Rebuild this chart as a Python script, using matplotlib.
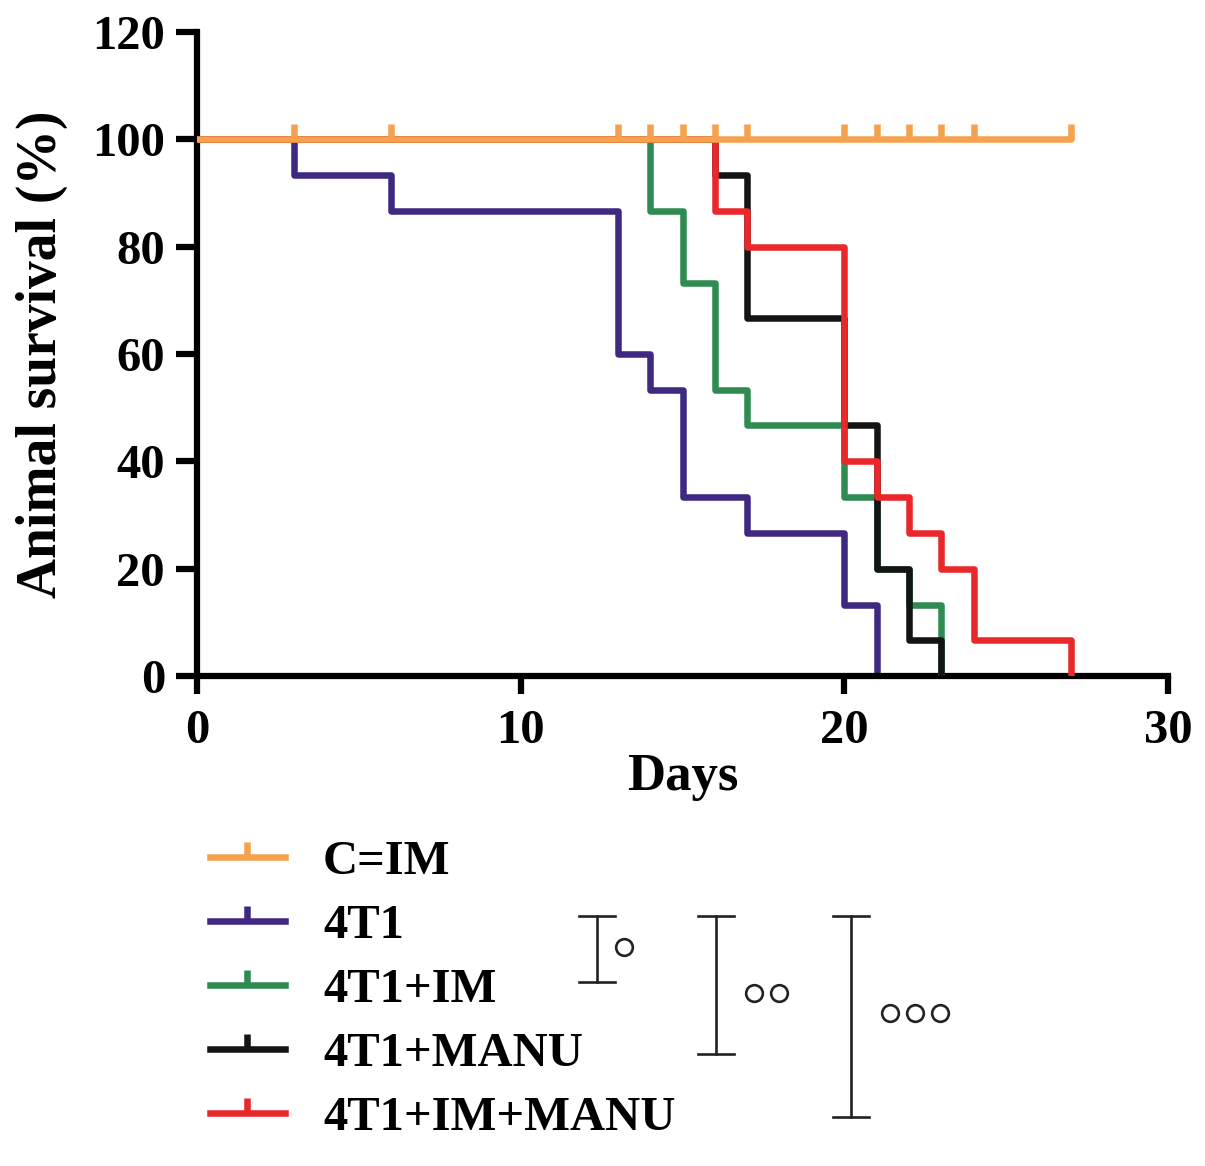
import matplotlib.pyplot as plt
from matplotlib.lines import Line2D

# Kaplan-Meier data (n = 15 per group)
days_4t1 = [0, 3, 6, 13, 14, 15, 17, 20, 21]
surv_4t1 = [100, 93.3, 86.7, 60, 53.3, 33.3, 26.7, 13.3, 0]

days_im = [0, 14, 15, 16, 17, 20, 21, 22, 23]
surv_im = [100, 86.7, 73.3, 53.3, 46.7, 33.3, 20, 13.3, 0]

days_manu = [0, 16, 17, 20, 21, 22, 23]
surv_manu = [100, 93.3, 66.7, 46.7, 20, 6.7, 0]

days_im_manu = [0, 16, 17, 20, 21, 22, 23, 24, 27]
surv_im_manu = [100, 86.7, 80, 40, 33.3, 26.7, 20, 6.7, 0]

days_ctrl = [0, 27]
surv_ctrl = [100, 100]
censor_ctrl = [3, 6, 13, 14, 15, 16, 17, 20, 21, 22, 23, 24, 27]

labels = ['C=IM', '4T1', '4T1+IM', '4T1+MANU', '4T1+IM+MANU']
colors = ['#F6A14E', '#3F2880', '#2F8B52', '#141414', '#E8282A']

plt.rcParams['font.family'] = 'Liberation Serif'
plt.rcParams['font.weight'] = 'bold'

fig = plt.figure(figsize=(12.05, 11.66), dpi=100)
ax = fig.add_axes([0.1635, 0.4202, 0.8058, 0.5524])

lw = 4.7
censor_mark = [(0, 0), (0, 1)]

ax.step(days_4t1, surv_4t1, where='post', color=colors[1], lw=lw, zorder=2)
ax.step(days_im, surv_im, where='post', color=colors[2], lw=lw, zorder=3)
ax.step(days_manu, surv_manu, where='post', color=colors[3], lw=lw, zorder=4)
ax.step(days_im_manu, surv_im_manu, where='post', color=colors[4], lw=lw, zorder=5)
ax.plot(days_ctrl, surv_ctrl, color=colors[0], lw=lw, zorder=6, solid_capstyle='round')
ax.plot(censor_ctrl, [100] * len(censor_ctrl), ls='none', marker=censor_mark,
        markersize=22, mew=lw, mec=colors[0], zorder=6, clip_on=False)

ax.set_xlim(0, 30)
ax.set_ylim(0, 120)
ax.set_xticks([0, 10, 20, 30])
ax.set_yticks([0, 20, 40, 60, 80, 100, 120])
for s in ['top', 'right']:
    ax.spines[s].set_visible(False)
for s in ['left', 'bottom']:
    ax.spines[s].set_linewidth(4.5)
    ax.spines[s].set_capstyle('projecting')
ax.tick_params(width=4.5, labelsize=35)
ax.tick_params(axis='x', length=13, pad=11)
ax.tick_params(axis='y', length=15, pad=8)
ax.set_xlabel('Days', fontsize=38, fontweight='bold', labelpad=0)
ax.set_ylabel('Animal survival (%)', fontsize=40, fontweight='bold', labelpad=17)

handles = [Line2D([], [], color=c, lw=lw, marker=censor_mark, markersize=22,
                  mew=lw, mec=c) for c in colors]
fig.legend(handles, labels, loc='upper left', bbox_to_anchor=(0.174, 0.2796),
           frameon=False, fontsize=35, handlelength=1.55, handletextpad=0.78,
           labelspacing=0.41, borderpad=0, borderaxespad=0, numpoints=1)

# significance brackets (pixel coordinates of the figure)
ov = fig.add_axes([0, 0, 1, 1])
ov.set_xlim(0, 1205)
ov.set_ylim(1166, 0)
ov.axis('off')
brackets = [(597, 916, 982, 947, 27, 1), (716, 916, 1054, 993, 38, 2),
            (851, 916, 1117, 1013, 39, 3)]
for x, y0, y1, yc, off, n in brackets:
    ov.plot([x, x], [y0, y1], color='#222222', lw=1.9)
    ov.plot([x - 18, x + 18], [y0, y0], color='#222222', lw=1.9)
    ov.plot([x - 18, x + 18], [y1, y1], color='#222222', lw=1.9)
    ov.plot([x + off + 25 * i for i in range(n)], [yc] * n, ls='none', marker='o',
            markersize=12, mfc='white', mec='#222222', mew=1.9)

fig.savefig('out.png', dpi=100)
